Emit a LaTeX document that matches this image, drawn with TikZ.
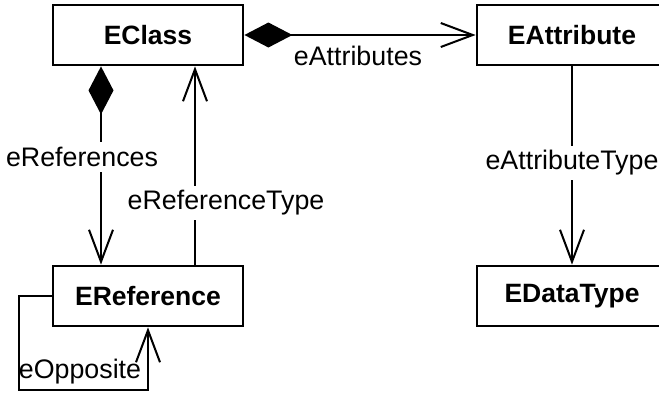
\documentclass[tikz,border=0pt]{standalone}
\usepackage{fontspec}
\setmainfont{Liberation Sans}
\usetikzlibrary{arrows.meta}
\begin{document}
\begin{tikzpicture}[x=1pt,y=-1pt,
  cls/.style={draw,line width=2.8pt,minimum width=190pt,minimum height=60pt,inner sep=0pt,font=\fontsize{26.5}{30}\selectfont\bfseries},
  lbl/.style={font=\fontsize{26.8}{30}\selectfont,inner sep=2pt},
  gaplbl/.style={lbl,fill=white,inner sep=5pt},
  conn/.style={line width=2pt},
  nav/.style={conn,-{Straight Barb[length=32pt,width=24pt,line width=2pt]}},
  compnav/.style={conn,{Diamond[length=48pt,width=25pt]}-{Straight Barb[length=32pt,width=24pt,line width=2pt]}}]
\useasboundingbox (0,0) rectangle (659,392);
\clip (0,0) rectangle (659,392);
\node[cls] (EClass) at (148,35) {EClass};
\node[cls] (EAttribute) at (572,35) {EAttribute};
\node[cls] (ERef) at (148,296) {EReference};
\node[cls] (EDataType) at (572,296) {EDataType};
% eAttributes
\draw[compnav] (EClass) -- (EAttribute);
\node[lbl] (lAttr) at (358,56) {eAttributes};
% eReferences
\draw[compnav] ([xshift=-47pt]EClass.south) -- ([xshift=-47pt]ERef.north);
\node[gaplbl] (lRefs) at (82,157) {eReferences};
% eReferenceType
\draw[nav] ([xshift=47pt]ERef.north) -- ([xshift=47pt]EClass.south);
\node[gaplbl] (lRefType) at (226,203) {eReferenceType};
% eAttributeType
\draw[nav] (EAttribute.south) -- (EDataType.north);
\node[gaplbl] (lAttrType) at (572,163) {eAttributeType};
% eOpposite
\coordinate (oppc) at (19,390);
\draw[nav] (ERef.west) -| (oppc) -| (ERef.south);
\node[lbl] (lOpp) at (80,372) {eOpposite};
\end{tikzpicture}
\end{document}
